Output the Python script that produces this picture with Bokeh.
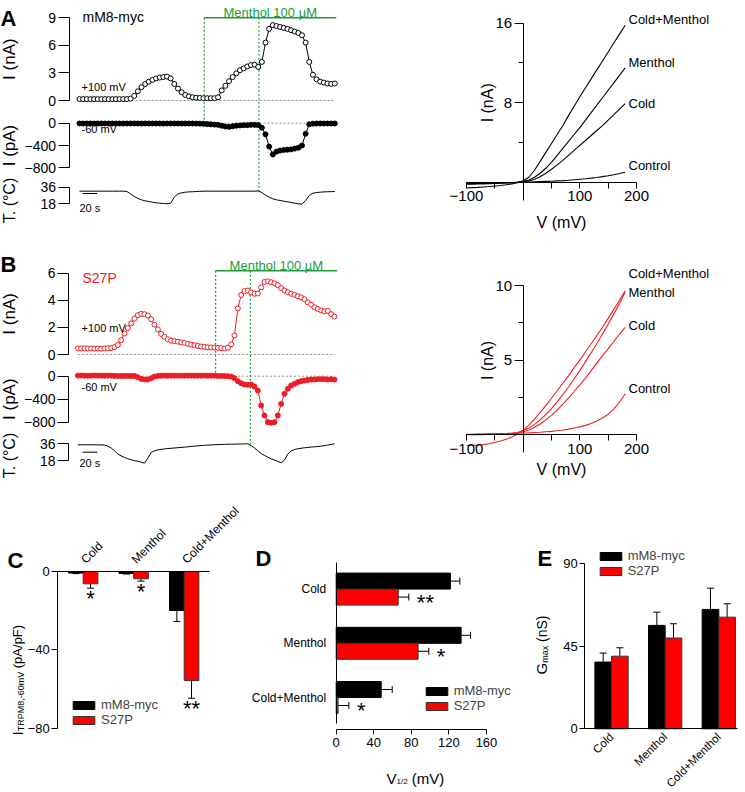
import numpy as np
from math import pi
from bokeh.plotting import figure
from bokeh.models import (Range1d, LinearAxis, FixedTicker, Label, Legend, LegendItem,
                          Whisker, ColumnDataSource, TeeHead)
from bokeh.layouts import column, row
from bokeh.embed import file_html
from bokeh.resources import INLINE

FONT = "Liberation Sans"
BLACK = "#000000"
RED_TRACE = "#ee1c24"
RED_BAR = "#ff0000"
GREEN = "#1c9c3c"
GRAY = "#8c8c8c"

# ---------------- data ----------------
# Panel A (mM8-myc) time course, one sweep every 5 s
a_dt = 5.0
a_i100 = [0.15, 0.15, 0.15, 0.15, 0.15, 0.15, 0.15, 0.15, 0.15, 0.15, 0.15, 0.15, 0.15, 0.15, 0.2,
          0.5, 1.0, 1.45, 1.8, 2.05, 2.25, 2.4, 2.5, 2.55, 2.6,
          2.4, 1.8, 1.3, 0.9, 0.6, 0.45, 0.35, 0.3, 0.28, 0.25,
          0.25, 0.25, 0.25, 0.35, 1.1, 1.6, 2.1, 2.55, 2.95, 3.3,
          3.5, 3.7, 3.85, 3.9, 3.65, 4.2, 6.3, 7.8, 8.2, 8.1,
          8.0, 7.9, 7.8, 7.65, 7.5, 7.35, 7.1, 6.3, 4.2, 2.8,
          2.3, 2.05, 1.95, 1.85, 1.8, 1.85]
a_i60 = [-5, -6, -5, -5, -6, -5, -5, -5, -6, -5, -5, -5, -6, -5, -5, -5, -5, -6, -5, -5,
         -5, -5, -5, -6, -5, -5, -5, -5, -6, -5, -5, -5, -6, -8,
         -10, -15, -20, -25, -30, -45, -60, -65, -55, -45, -40, -35, -35, -30, -30,
         -35, -80, -200, -420, -560, -510, -490, -480, -475, -470, -455, -440, -400, -190, -20,
         -8, -5, -5, -6, -5, -5, -5]
a_temp = [31.7, 31.7, 31.7, 31.7, 31.7, 31.7, 31.7, 31.7, 31.7, 31.7, 31.7, 31.7, 31.7,
          31.3, 28.8, 26.0, 23.8, 22.3, 21.2, 20.5, 19.8, 19.1, 18.7,
          18.4, 18.0, 18.7, 25.2, 28.8, 29.9, 30.6, 30.9, 31.1, 31.3,
          31.5,
          31.7, 31.7, 31.7, 31.7, 31.7, 31.7, 31.7, 31.7, 31.7, 31.7, 31.7, 31.7, 31.7, 31.7, 31.7,
          32.0, 30.2, 27.4, 25.2, 23.4, 22.3, 21.6, 20.9, 20.2, 19.4,
          18.7, 18.0, 17.6, 21.6, 27.0, 29.5, 30.2, 30.6, 30.9, 31.1, 31.2, 31.3]
a_menthol = [171, 352]   # s, menthol application
a_cold2 = 246            # s, second cold pulse onset

# Panel B (S27P) time course, one sweep every 4.5 s
b_dt = 4.5
b_i100 = [0.45, 0.45, 0.46, 0.44, 0.45, 0.44, 0.45, 0.43, 0.45, 0.46,
          0.48, 0.55, 0.7, 1.05, 1.55, 1.95, 2.3, 2.65, 2.9, 3.0,
          2.97, 2.88, 2.6, 2.2, 1.85, 1.52, 1.3, 1.12, 1.02, 0.98,
          0.95, 0.9, 0.86, 0.79, 0.73, 0.68, 0.63, 0.59, 0.56, 0.53,
          0.52, 0.51, 0.49, 0.47, 0.44, 0.5, 0.75, 1.4, 3.4, 4.4,
          4.68, 4.72, 4.58, 4.48, 4.5, 4.95, 5.35, 5.4, 5.33, 5.25,
          5.12, 4.9, 4.72, 4.6, 4.48, 4.4, 4.3, 4.22, 4.08, 3.85,
          3.68, 3.48, 3.36, 3.25, 3.18, 3.22, 2.98, 2.8]
b_i60 = [10, 12, 10, 8, 10, 12, 10, 10, 8, 10,
         10, 5, 5, 3, 5, 5, 3, 5, -17, -46,
         -58, -58, -35, -6, 5, 8, 10, 8, 10, 10,
         8, 10, 8, 10, 10, 8, 10, 8, 10, 8,
         10, 8, 5, 5, 3, 0, -6, -35, -87, -122,
         -145, -150, -145, -180, -250, -510, -684, -800, -810, -800,
         -684, -481, -307, -220, -162, -133, -104, -87, -75, -64,
         -58, -58, -52, -52, -52, -58, -52, -58]
b_temp = [34.9, 34.9, 34.9, 34.9, 34.9, 34.9, 34.9, 34.8, 34.6, 33.5,
          31.5, 28.4, 25.0, 23.0, 21.3, 19.8, 18.8, 17.9, 17.2, 16.2,
          15.1, 20.5, 26.8, 28.4, 29.4, 30.0, 30.5, 30.9, 31.2, 31.5,
          31.8, 32.1, 32.4, 32.8, 33.1, 33.5, 33.8, 34.1, 34.4, 34.6,
          34.8, 35.0, 35.2, 35.3, 35.4, 35.5, 35.6, 35.6, 35.7, 35.8,
          35.9, 36.0, 34.0, 31.5, 28.4, 25.5, 23.5, 21.6, 19.8, 18.5,
          17.0, 15.5, 18.5, 25.0, 28.4, 29.8, 30.6, 31.2, 31.7, 32.1,
          32.5, 32.8, 33.1, 33.5, 34.0, 34.6, 35.3, 36.0]
b_menthol = [186, 350]
b_cold2 = 233
scale_bar_s = 20

# I-V ramps (mV, nA)
iv_v = [-100, -90, -80, -70, -60, -50, -40, -30, -20, -10, 0, 10, 20, 30, 40, 50, 60, 70, 80, 90,
        100, 110, 120, 130, 140, 150, 160, 170, 180]
iv_names = ["Cold+Menthol", "Menthol", "Cold", "Control"]
ivA_coldmenthol = [-0.58, -0.55, -0.52, -0.48, -0.44, -0.39, -0.33, -0.26, -0.17, -0.05, 0.15, 0.5, 1.2, 2.1, 3.0,
                   3.9, 4.8, 5.7, 6.7, 7.65, 8.6, 9.5, 10.4, 11.3, 12.2, 13.1, 14.0, 14.9, 15.8]
ivA_menthol = [-0.2, -0.19, -0.18, -0.17, -0.15, -0.13, -0.11, -0.08, -0.05, -0.02, 0.08, 0.22, 0.5, 0.9, 1.4,
               2.0, 2.7, 3.4, 4.1, 4.8, 5.5, 6.25, 7.0, 7.75, 8.5, 9.25, 10.0, 10.75, 11.5]
ivA_cold = [-0.15, -0.14, -0.13, -0.12, -0.11, -0.1, -0.08, -0.06, -0.04, -0.01, 0.05, 0.13, 0.3, 0.55, 0.9,
            1.3, 1.75, 2.2, 2.7, 3.2, 3.7, 4.2, 4.7, 5.2, 5.7, 6.25, 6.8, 7.35, 7.9]
ivA_control = [-0.12, -0.11, -0.1, -0.09, -0.08, -0.07, -0.06, -0.04, -0.03, -0.01, 0.0, 0.02, 0.04, 0.06, 0.08,
               0.1, 0.13, 0.16, 0.2, 0.25, 0.3, 0.35, 0.41, 0.48, 0.56, 0.65, 0.75, 0.87, 1.0]
ivB_coldmenthol = [-0.72, -0.71, -0.69, -0.66, -0.6, -0.52, -0.42, -0.3, -0.15, 0.05, 0.3, 0.65, 1.05, 1.5, 1.95,
                   2.45, 2.95, 3.45, 3.95, 4.5, 5.0, 5.55, 6.1, 6.65, 7.2, 7.8, 8.4, 9.0, 9.65]
ivB_menthol = [0.02, 0.02, 0.03, 0.03, 0.04, 0.05, 0.06, 0.08, 0.1, 0.15, 0.28, 0.45, 0.7, 1.0, 1.35,
               1.75, 2.2, 2.7, 3.2, 3.75, 4.3, 4.9, 5.5, 6.1, 6.75, 7.4, 8.1, 8.8, 9.55]
ivB_cold = [0.0, 0.0, 0.01, 0.01, 0.02, 0.03, 0.04, 0.06, 0.08, 0.12, 0.2, 0.32, 0.5, 0.72, 1.0,
            1.3, 1.65, 2.05, 2.45, 2.9, 3.35, 3.8, 4.3, 4.8, 5.3, 5.75, 6.25, 6.75, 7.2]
ivB_control = [0.04, 0.04, 0.05, 0.05, 0.06, 0.07, 0.08, 0.09, 0.1, 0.11, 0.12, 0.13, 0.15, 0.17, 0.2,
               0.23, 0.27, 0.32, 0.38, 0.45, 0.53, 0.63, 0.76, 0.92, 1.12, 1.38, 1.72, 2.18, 2.75]

# Bar charts
conditions = ["Cold", "Menthol", "Cold+Menthol"]
series = ["mM8-myc", "S27P"]
c_wt = [-0.8, -1.0, -19.9]
c_wt_err = [0.3, 0.3, 5.6]
c_mut = [-6.3, -3.7, -55.7]
c_mut_err = [2.2, 1.2, 9.0]
c_sig = ["*", "*", "**"]
d_wt = [121.6, 133.0, 47.9]
d_wt_err = [10.0, 10.0, 11.7]
d_mut = [66.0, 87.2, 2.0]
d_mut_err = [11.3, 11.4, 11.5]
d_sig = ["**", "*", "*"]
e_wt = [36.4, 56.4, 65.1]
e_wt_err = [4.9, 7.2, 11.6]
e_mut = [39.6, 49.5, 60.9]
e_mut_err = [4.6, 7.8, 7.3]

# ---------------- helpers ----------------
W = {' ': 0.278, '(': 0.333, ')': 0.333, '/': 0.278, ',': 0.278, '-': 0.333, '.': 0.278,
     'A': 0.667, 'F': 0.611, 'G': 0.778, 'I': 0.278, 'M': 0.833, 'P': 0.667, 'R': 0.722,
     'S': 0.667, 'T': 0.611, 'V': 0.667, 'a': 0.556, 'm': 0.833, 'n': 0.556, 'p': 0.556, 'x': 0.5}


def tw(s, size):
    return size * sum(W.get(c, 0.556) for c in s)


class Lin:
    """Linear map between page pixels and data values from two anchors."""
    def __init__(self, a, b):
        (v1, p1), (v2, p2) = a, b
        self.k = (v2 - v1) / (p2 - p1)
        self.v1, self.p1 = v1, p1

    def v(self, px):
        return self.v1 + (px - self.p1) * self.k

    def p(self, val):
        return self.p1 + (val - self.v1) / self.k


class Box:
    """A figure whose frame covers its whole area on the page (page px)."""
    def __init__(self, ox, oy, w, h, xa, ya):
        self.ox, self.oy, self.w, self.h = ox, oy, w, h
        self.xm = Lin(*xa)
        self.ym = Lin(*ya)

    def X(self, px):
        return self.xm.v(px)

    def Y(self, py):
        return self.ym.v(py)

    def PX(self, v):
        return self.xm.p(v)

    def PY(self, v):
        return self.ym.p(v)

    def yrange(self, lin):
        return Range1d(lin.v(self.oy + self.h), lin.v(self.oy))

    def figure(self):
        p = figure(width=self.w, height=self.h,
                   x_range=Range1d(self.X(self.ox), self.X(self.ox + self.w)),
                   y_range=Range1d(self.Y(self.oy + self.h), self.Y(self.oy)),
                   x_axis_type=None, y_axis_type=None, toolbar_location=None,
                   output_backend="svg",
                   min_border_left=0, min_border_right=0, min_border_top=0, min_border_bottom=0)
        p.outline_line_color = None
        p.background_fill_color = "white"
        p.border_fill_color = "white"
        return p


def lab(p, b, text, px, py, size, align="left", baseline="middle", angle=0.0,
        color=BLACK, bold=False):
    p.add_layout(Label(x=b.X(px), y=b.Y(py), text=text, text_font=FONT,
                       text_font_size=f"{size}px", text_align=align,
                       text_baseline=baseline, angle=angle, text_color=color,
                       text_font_style="bold" if bold else "normal"))


def rich(p, b, pieces, px, py, vertical=False):
    pos = 0.0
    for text, size, shift in pieces:
        if text.strip():
            if vertical:
                x, y, ang = px + shift, py - pos, pi / 2
            else:
                x, y, ang = px + pos, py + shift, 0.0
            lab(p, b, text, x, y, size, align="left", baseline="alphabetic", angle=ang)
        pos += tw(text, size)


def style_axis(ax, size, tick=6, standoff=2):
    ax.axis_line_color = BLACK
    ax.axis_line_width = 1
    ax.major_tick_line_color = BLACK
    ax.major_tick_in = 0
    ax.major_tick_out = tick
    ax.minor_tick_line_color = None
    ax.major_label_text_font = FONT
    ax.major_label_text_font_size = f"{size}px"
    ax.major_label_text_color = BLACK
    ax.major_label_standoff = standoff


# ---------------- time-course panels (A, B) ----------------
def trace_panel(b, pa_lin, t_lin, t, i100, i60, temp, menthol, cold2, color, name, letter,
                top_ticks, top_max, axis_px, bar_px, text_base_px, letter_base, name_py,
                lab100_py, lab60_py, scale_px, scale_py, scale_text_py, ylab_py):
    p = b.figure()
    p.extra_y_ranges = {"pA": b.yrange(pa_lin), "T": b.yrange(t_lin)}
    xfix = b.X(axis_px)
    for rng, ticks, bounds in (("default", top_ticks, (0, top_max)),
                               ("pA", [0, -400, -800], (-800, 0)),
                               ("T", [18, 36], (18, 36))):
        ax = LinearAxis(y_range_name=rng, ticker=FixedTicker(ticks=ticks), bounds=bounds,
                        fixed_location=xfix)
        style_axis(ax, 14, tick=11, standoff=2)
        p.add_layout(ax, "left")

    # dotted zero lines
    p.segment(x0=[t[0]], y0=[0], x1=[t[-1]], y1=[0], line_color=GRAY, line_dash="2 2", line_width=1)
    p.segment(x0=[t[0]], y0=[0], x1=[t[-1]], y1=[0], line_color=GRAY, line_dash="2 2", line_width=1,
              y_range_name="pA")
    # menthol application and dotted markers
    bar_y = b.Y(bar_px)
    end1 = b.Y(pa_lin.p(0))
    end2 = b.Y(t_lin.p(float(np.interp(cold2, t, temp))))
    p.segment(x0=[menthol[0], cold2], y0=[bar_y, bar_y], x1=[menthol[0], cold2], y1=[end1, end2],
              line_color=GREEN, line_dash="2 2", line_width=1.2)
    p.segment(x0=[menthol[0]], y0=[bar_y], x1=[menthol[1]], y1=[bar_y], line_color=GREEN, line_width=1.5)

    # currents
    p.line(t, i100, line_color=color, line_width=1)
    p.scatter(t, i100, marker="circle", size=5, fill_color="white", line_color=color, line_width=1)
    p.line(t, i60, line_color=color, line_width=1, y_range_name="pA")
    p.scatter(t, i60, marker="circle", size=5, fill_color=color, line_color=color, line_width=1,
              y_range_name="pA")
    # temperature
    p.line(t, temp, line_color=BLACK, line_width=1, y_range_name="T")
    sx0 = b.X(scale_px)
    sy = t_lin.v(scale_py)
    p.segment(x0=[sx0], y0=[sy], x1=[sx0 + scale_bar_s], y1=[sy], line_color=BLACK, line_width=1,
              y_range_name="T")

    # texts
    lab(p, b, "Menthol 100 \u00b5M", b.PX((menthol[0] + menthol[1]) / 2), text_base_px, 13,
        align="center", baseline="alphabetic", color=GREEN)
    lab(p, b, letter, 0, letter_base, 22, baseline="alphabetic", bold=True)
    lab(p, b, name, 82, name_py, 14, color=color)
    lab(p, b, "+100 mV", 81, lab100_py, 11)
    lab(p, b, "-60 mV", 81, lab60_py, 11)
    lab(p, b, f"{scale_bar_s} s", scale_px - 3, scale_text_py, 11)
    lab(p, b, "I (nA)", 8.5, (b.PY(0) + b.PY(top_max)) / 2, 17, align="center", angle=pi / 2)
    lab(p, b, "I (pA)", 8.5, (pa_lin.p(0) + pa_lin.p(-800)) / 2, 17, align="center", angle=pi / 2)
    lab(p, b, "T. (\u00b0C)", 8.5, ylab_py, 16, align="center", angle=pi / 2)
    return p


a_t = [a_dt * k for k in range(len(a_i100))]
b_t = [b_dt * k for k in range(len(b_i100))]

bA = Box(0, 0, 380, 240, ((0.0, 79.0), (350.0, 334.3)), ((9, 17.3), (0, 100.0)))
fA = trace_panel(bA, Lin((0, 122.7), (-800, 167.3)), Lin((36, 186.7), (18, 203.3)),
                 a_t, a_i100, a_i60, a_temp, a_menthol, a_cold2, BLACK, "mM8-myc", "A",
                 [0, 3, 6, 9], 9, 68.5, 17.3, 11.5, 18, 16, 86, 128.5, 82, 193, 207, 200)

bB = Box(0, 240, 380, 240, ((0.0, 77.33), (346.5, 334.0)), ((6, 272.7), (0, 354.0)))
fB = trace_panel(bB, Lin((0, 375.7), (-800, 421.7)), Lin((36, 443.3), (18, 460.0)),
                 b_t, b_i100, b_i60, b_temp, b_menthol, b_cold2, RED_TRACE, "S27P", "B",
                 [0, 2, 4, 6], 6, 68.0, 270.3, 264.5, 263.5, 277, 327, 386, 82, 451.7, 462, 455)


# ---------------- I-V panels ----------------
def iv_panel(b, curves, color, yticks, yminor, ymax, label_py, ylab_py, vlab_py, ybottom_px):
    p = b.figure()
    yax = LinearAxis(ticker=FixedTicker(ticks=yticks, minor_ticks=yminor),
                     bounds=(b.Y(ybottom_px), ymax), fixed_location=0)
    style_axis(yax, 15, tick=9)
    yax.minor_tick_line_color = BLACK
    yax.minor_tick_in = 0
    yax.minor_tick_out = 5
    p.add_layout(yax, "left")
    xax = LinearAxis(ticker=FixedTicker(ticks=[-100, 100, 200], minor_ticks=[-50, 50, 150]),
                     bounds=(-100, 200), fixed_location=0)
    style_axis(xax, 15, tick=6, standoff=3)
    xax.minor_tick_line_color = BLACK
    xax.minor_tick_in = 0
    xax.minor_tick_out = 6
    p.add_layout(xax, "below")
    for ys in curves:
        p.line(iv_v, ys, line_color=color, line_width=1.1)
    for name, py in zip(iv_names, label_py):
        lab(p, b, name, 628, py, 13)
    lab(p, b, "I (nA)", 487, ylab_py, 16, align="center", angle=pi / 2)
    lab(p, b, "V (mV)", 561, vlab_py, 16, align="center")
    return p


xa_iv = ((-100, 466.0), (200, 636.0))
bAIV = Box(380, 0, 364, 240, xa_iv, ((16, 22.7), (0, 181.7)))
fAIV = iv_panel(bAIV, [ivA_coldmenthol, ivA_menthol, ivA_cold, ivA_control], BLACK,
                [8, 16], [4, 12], 16, [19.3, 62, 103, 165], 102.3, 221.7, 200)
bBIV = Box(380, 240, 364, 240, xa_iv, ((10, 285.0), (0, 434.3)))
fBIV = iv_panel(bBIV, [ivB_coldmenthol, ivB_menthol, ivB_cold, ivB_control], RED_TRACE,
                [5, 10], [2.5, 7.5], 10, [273.3, 291.7, 325, 388.3], 360, 469, 452)


# ---------------- bar charts ----------------
def make_legend(p, r_wt, r_mut, x, y):
    lg = Legend(items=[LegendItem(label=series[0], renderers=[r_wt]),
                       LegendItem(label=series[1], renderers=[r_mut])],
                location=(x, y), glyph_width=27, glyph_height=10, label_height=13,
                spacing=0, padding=0, margin=0, label_standoff=4,
                label_text_font=FONT, label_text_font_size="13px",
                border_line_color=None, background_fill_alpha=0)
    p.add_layout(lg)


def whiskers(p, src, base, lo, up, dim):
    p.add_layout(Whisker(source=src, base=base, lower=lo, upper=up, dimension=dim,
                         line_color=BLACK, line_width=1, lower_head=None,
                         upper_head=TeeHead(size=7, line_color=BLACK, line_width=1)))


idx = list(range(len(conditions)))
labels_map = {i: c for i, c in enumerate(conditions)}
ROW3 = 480
H3 = 310

# C: current at -60 mV
bC = Box(0, ROW3, 248, H3, ((0, 82.7), (2, 183.7)), ((0, 571.0), (-80, 727.7)))
fC = bC.figure()
hw = 0.145
srcC = ColumnDataSource(dict(
    xw=[i - hw for i in idx], xm=[i + hw for i in idx], wt=c_wt, mut=c_mut,
    wt_end=[m - e for m, e in zip(c_wt, c_wt_err)], mut_end=[m - e for m, e in zip(c_mut, c_mut_err)]))
whiskers(fC, srcC, "xw", "wt", "wt_end", "height")
whiskers(fC, srcC, "xm", "mut", "mut_end", "height")
rC1 = fC.vbar(x="xw", top="wt", bottom=0, width=2 * hw, fill_color=BLACK, line_color=BLACK, source=srcC)
rC2 = fC.vbar(x="xm", top="mut", bottom=0, width=2 * hw, fill_color=RED_BAR, line_color="#333333", source=srcC)
yax = LinearAxis(ticker=FixedTicker(ticks=[0, -40, -80]), bounds=(-80, 0), fixed_location=bC.X(57.3))
style_axis(yax, 13, tick=6)
fC.add_layout(yax, "left")
xax = LinearAxis(ticker=FixedTicker(ticks=idx), major_label_overrides=labels_map,
                 major_label_orientation=pi / 4, fixed_location=0,
                 bounds=(bC.X(57.3), bC.X(209.3)))
style_axis(xax, 12)
xax.major_tick_line_color = None
xax.major_label_standoff = 4
fC.add_layout(xax, "above")
make_legend(fC, rC1, rC2, 70, 63)
for i, s in enumerate(c_sig):
    lab(fC, bC, s, bC.PX(i + hw), bC.PY(c_mut[i] - c_mut_err[i]) - 2, 22, align="center", baseline="top")
lab(fC, bC, "C", 7, 560, 22, baseline="alphabetic", bold=True)
rich(fC, bC, [("I", 15, 0), ("TRPM8,-60mV", 9, 3), (" ", 13, 0), ("(pA/pF)", 13, 0)], 17, 735, vertical=True)

# D: V1/2
bD = Box(248, ROW3, 264, H3, ((0, 335.7), (160, 486.0)), ((0, 588.6), (2, 697.0)))
fD = bD.figure()
hh = 0.1475
srcD = ColumnDataSource(dict(
    yw=[i - hh for i in idx], ym=[i + hh for i in idx], wt=d_wt, mut=d_mut,
    wt_end=[m + e for m, e in zip(d_wt, d_wt_err)], mut_end=[m + e for m, e in zip(d_mut, d_mut_err)]))
whiskers(fD, srcD, "yw", "wt", "wt_end", "width")
whiskers(fD, srcD, "ym", "mut", "mut_end", "width")
rD1 = fD.hbar(y="yw", right="wt", left=0, height=2 * hh, fill_color=BLACK, line_color=BLACK, source=srcD)
rD2 = fD.hbar(y="ym", right="mut", left=0, height=2 * hh, fill_color=RED_BAR, line_color="#333333", source=srcD)
xax = LinearAxis(ticker=FixedTicker(ticks=[0, 40, 80, 120, 160]), bounds=(0, 160),
                 fixed_location=bD.Y(729.3))
style_axis(xax, 13, tick=5, standoff=3)
fD.add_layout(xax, "below")
yb = sorted([bD.Y(561.7), bD.Y(723)])
yax = LinearAxis(ticker=FixedTicker(ticks=idx), major_label_overrides=labels_map,
                 bounds=(yb[0], yb[1]), fixed_location=0)
style_axis(yax, 12)
yax.major_tick_line_color = None
yax.major_label_standoff = 4
fD.add_layout(yax, "left")
make_legend(fD, rD1, rD2, 174.7, 76.7)
for i, s in enumerate(d_sig):
    lab(fD, bD, s, bD.PX(d_mut[i] + d_mut_err[i]) + 8, bD.PY(i + hh) + 5, 22, align="left", baseline="middle")
lab(fD, bD, "D", 255, 558, 22, baseline="alphabetic", bold=True)
rich(fD, bD, [("V", 15, 0), ("1/2", 8, 3), (" ", 15, 0), ("(mV)", 15, 0)], 386, 778)

# E: Gmax
bE = Box(512, ROW3, 232, H3, ((0, 611.0), (2, 718.3)), ((0, 728.3), (90, 563.3)))
fE = bE.figure()
hw = 0.155
srcE = ColumnDataSource(dict(
    xw=[i - hw for i in idx], xm=[i + hw for i in idx], wt=e_wt, mut=e_mut,
    wt_end=[m + e for m, e in zip(e_wt, e_wt_err)], mut_end=[m + e for m, e in zip(e_mut, e_mut_err)]))
whiskers(fE, srcE, "xw", "wt", "wt_end", "height")
whiskers(fE, srcE, "xm", "mut", "mut_end", "height")
rE1 = fE.vbar(x="xw", top="wt", bottom=0, width=2 * hw, fill_color=BLACK, line_color=BLACK, source=srcE)
rE2 = fE.vbar(x="xm", top="mut", bottom=0, width=2 * hw, fill_color=RED_BAR, line_color="#333333", source=srcE)
yax = LinearAxis(ticker=FixedTicker(ticks=[0, 45, 90]), bounds=(0, 90), fixed_location=bE.X(584.3))
style_axis(yax, 13, tick=5)
fE.add_layout(yax, "left")
xax = LinearAxis(ticker=FixedTicker(ticks=idx), major_label_overrides=labels_map,
                 major_label_orientation=pi / 4, fixed_location=0,
                 bounds=(bE.X(584.3), bE.X(736.7)))
style_axis(xax, 11.5)
xax.major_tick_line_color = None
xax.major_label_standoff = 0
fE.add_layout(xax, "below")
make_legend(fE, rE1, rE2, 84.7, 212)
lab(fE, bE, "E", 537, 558, 22, baseline="alphabetic", bold=True)
rich(fE, bE, [("G", 15, 0), ("max", 9, 3), (" ", 14, 0), ("(nS)", 14, 0)], 541, 674, vertical=True)

layout = column(row(fA, fAIV), row(fB, fBIV), row(fC, fD, fE))
open("out.html", "w").write(file_html(layout, INLINE))
